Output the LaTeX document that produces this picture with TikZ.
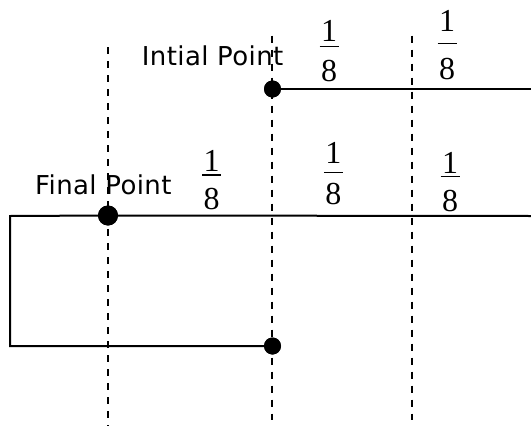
\documentclass[tikz,border=0pt]{standalone}
\usepackage{fontspec}
\setmainfont{Liberation Serif}
\newfontfamily\labelfont[LetterSpace=1.5]{DejaVu Sans}
\tikzset{
  guide/.style={line width=2pt, dash pattern=on 7pt off 7pt},
  wire/.style={line width=2pt},
  dot/.style={circle, fill=black, inner sep=0pt, minimum size=#1},
  ptlabel/.style={inner sep=0pt, anchor=base west, font=\labelfont\fontsize{26}{30}\selectfont},
  fracdigit/.style={inner sep=0pt, anchor=base, font=\fontsize{32}{36}\selectfont},
  fracbar/.style={line width=1.5pt}
}
\newcommand\eighthat[5]{%
  \node[fracdigit] (#1n) at (#2,#3) {1};
  \node[fracdigit] (#1d) at (#2,#5) {8};
  \draw[fracbar] (#2-9.5,#4) -- (#2+9.5,#4);
}
\begin{document}
\begin{tikzpicture}[x=1pt,y=-1pt]
  \useasboundingbox (0,0) rectangle (531,426);
  % dashed guide lines
  \coordinate (d1t) at (108,47.4);  \coordinate (d1b) at (108,426);
  \coordinate (d2t) at (271.5,35.6); \coordinate (d2b) at (271.5,420);
  \coordinate (d3t) at (412,35.6);  \coordinate (d3b) at (412,420);
  \draw[guide] (d1t) -- (d1b);
  \draw[guide] (d2t) -- (d2b);
  \draw[guide] (d3t) -- (d3b);
  % points
  \coordinate (tr) at (531,89);
  \coordinate (mr) at (531,216);
  \coordinate (ml) at (10,216);
  \coordinate (bl) at (10,346);
  \node[dot=17pt] (ini) at (272.5,89) {};
  \node[dot=20pt] (fp) at (108,215.5) {};
  \node[dot=17pt] (end) at (272.5,346) {};
  % wires
  \draw[wire] (ini.center) -- (tr);
  \draw[wire] (mr) -- (fp.center) -- (ml) -- (bl) -- (end.center);
  \node[dot=17pt] at (ini) {};
  \node[dot=20pt] at (fp) {};
  \node[dot=17pt] at (end) {};
  % labels
  \node[ptlabel] (il) at (141.7,65) {Intial Point};
  \node[ptlabel] (fl) at (35,194.3) {Final Point};
  % fractions
  \eighthat{ta}{329}{41.7}{46.7}{81.2}
  \eighthat{tb}{447}{31.7}{43.3}{79.5}
  \eighthat{ma}{211.7}{171.7}{174.8}{209.5}
  \eighthat{mb}{333.3}{163}{172.3}{204.5}
  \eighthat{mc}{450}{173}{176.7}{211.2}
\end{tikzpicture}
\end{document}
